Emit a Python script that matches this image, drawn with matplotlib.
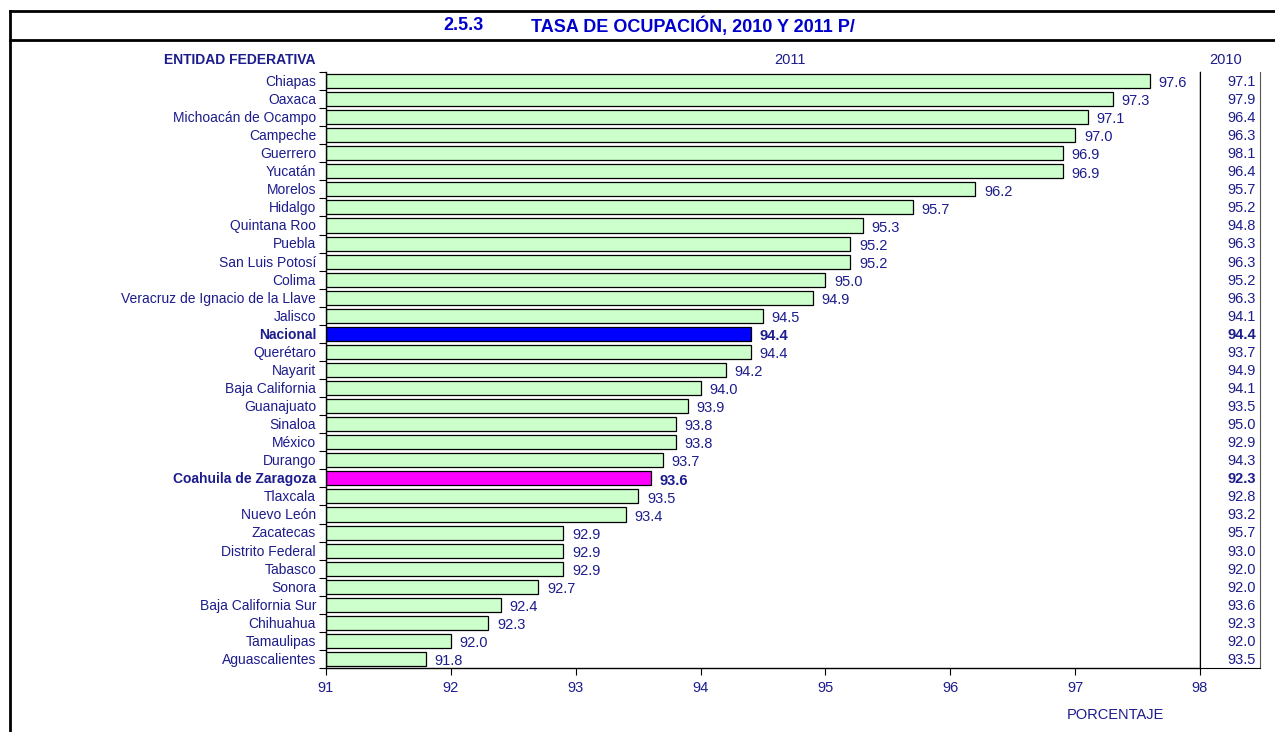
import numpy as np
import matplotlib.pyplot as plt
from matplotlib.lines import Line2D

plt.rcParams['font.family'] = ['Liberation Sans', 'DejaVu Sans']

NAVY = "#1c1c8c"
TITLE_BLUE = "#0000cc"

# data
entidades = [
    "Chiapas", "Oaxaca", "Michoacán de Ocampo", "Campeche", "Guerrero", "Yucatán",
    "Morelos", "Hidalgo", "Quintana Roo", "Puebla", "San Luis Potosí", "Colima",
    "Veracruz de Ignacio de la Llave", "Jalisco", "Nacional", "Querétaro", "Nayarit",
    "Baja California", "Guanajuato", "Sinaloa", "México", "Durango",
    "Coahuila de Zaragoza", "Tlaxcala", "Nuevo León", "Zacatecas", "Distrito Federal",
    "Tabasco", "Sonora", "Baja California Sur", "Chihuahua", "Tamaulipas",
    "Aguascalientes",
]
tasa_2011 = [
    97.6, 97.3, 97.1, 97.0, 96.9, 96.9, 96.2, 95.7, 95.3, 95.2, 95.2, 95.0,
    94.9, 94.5, 94.4, 94.4, 94.2, 94.0, 93.9, 93.8, 93.8, 93.7, 93.6, 93.5,
    93.4, 92.9, 92.9, 92.9, 92.7, 92.4, 92.3, 92.0, 91.8,
]
tasa_2010 = [
    97.1, 97.9, 96.4, 96.3, 98.1, 96.4, 95.7, 95.2, 94.8, 96.3, 96.3, 95.2,
    96.3, 94.1, 94.4, 93.7, 94.9, 94.1, 93.5, 95.0, 92.9, 94.3, 92.3, 92.8,
    93.2, 95.7, 93.0, 92.0, 92.0, 93.6, 92.3, 92.0, 93.5,
]
destacados = {"Nacional": "#0000ff", "Coahuila de Zaragoza": "#ff00ff"}
x_ticks = [91, 92, 93, 94, 95, 96, 97, 98]

BASE = 91
n = len(entidades)
y = np.arange(n)

fig = plt.figure(figsize=(12.75, 7.32), dpi=100)

# outer frame and title band
W, H = 1275, 732
def fx(px): return px / W
def fy(py): return 1 - py / H
frame = dict(color="black", lw=2, transform=fig.transFigure)
fig.add_artist(Line2D([fx(10), 1], [fy(11), fy(11)], **frame))
fig.add_artist(Line2D([fx(10), 1], [fy(40), fy(40)], **frame))
fig.add_artist(Line2D([fx(10), fx(10)], [fy(11), 0], **frame))
fig.text(fx(463), fy(26), "2.5.3", color=TITLE_BLUE, fontsize=13,
         fontweight="bold", ha="center", va="center")
fig.text(fx(693), fy(26), "TASA DE OCUPACIÓN, 2010 Y 2011 P/", color=TITLE_BLUE,
         fontsize=13, fontweight="bold", ha="center", va="center")

# main bar chart
ax = fig.add_axes([fx(326), fy(668), fx(1200) - fx(326), fy(72) - fy(668)])
colors = [destacados.get(e, "#ccffcc") for e in entidades]
ax.barh(y, np.array(tasa_2011) - BASE, left=BASE, height=0.78,
        color=colors, edgecolor="black", linewidth=0.9)
ax.set_xlim(91, 98)
ax.set_ylim(n - 0.5, -0.5)

for yi, (e, v) in enumerate(zip(entidades, tasa_2011)):
    bold = "bold" if e in destacados else "normal"
    ax.text(v + 0.07, yi + 0.12, f"{v:.1f}", color=NAVY, fontsize=10.5,
            fontweight=bold, ha="left", va="center")
    ax.text(BASE - 0.08, yi + 0.05, e, color=NAVY, fontsize=10,
            fontweight=bold, ha="right", va="center")

ax.set_yticks(np.arange(-0.5, n, 1.0))
ax.set_yticklabels([])
ax.tick_params(axis="y", length=5, width=0.8, direction="out")
ax.set_xticks(x_ticks)
ax.set_xticklabels([str(t) for t in x_ticks], color=NAVY, fontsize=10.5)
ax.tick_params(axis="x", length=5, width=0.8, direction="out", pad=4)
ax.spines["top"].set_visible(False)
for s in ["left", "bottom", "right"]:
    ax.spines[s].set_linewidth(1.0)

fig.text(fx(316), fy(60), "ENTIDAD FEDERATIVA", color=NAVY, fontsize=10,
         fontweight="bold", ha="right", va="center")
fig.text(fx(790), fy(60), "2011", color=NAVY, fontsize=10.5, ha="center", va="center")
fig.text(fx(1226), fy(60), "2010", color=NAVY, fontsize=10.5, ha="center", va="center")
fig.text(fx(1115), fy(715), "PORCENTAJE", color=NAVY, fontsize=10.5,
         ha="center", va="center")

# 2010 column
ax2 = fig.add_axes([fx(1200), fy(668), fx(1260) - fx(1200), fy(72) - fy(668)])
ax2.set_xlim(0, 1)
ax2.set_ylim(n - 0.5, -0.5)
ax2.set_xticks([])
ax2.set_yticks([])
ax2.spines["top"].set_visible(False)
ax2.spines["right"].set_color("#555555")
for yi, (e, v) in enumerate(zip(entidades, tasa_2010)):
    bold = "bold" if e in destacados else "normal"
    ax2.text(0.93, yi + 0.05, f"{v:.1f}", color=NAVY, fontsize=10.5,
             fontweight=bold, ha="right", va="center")

fig.savefig("out.png", dpi=100)
